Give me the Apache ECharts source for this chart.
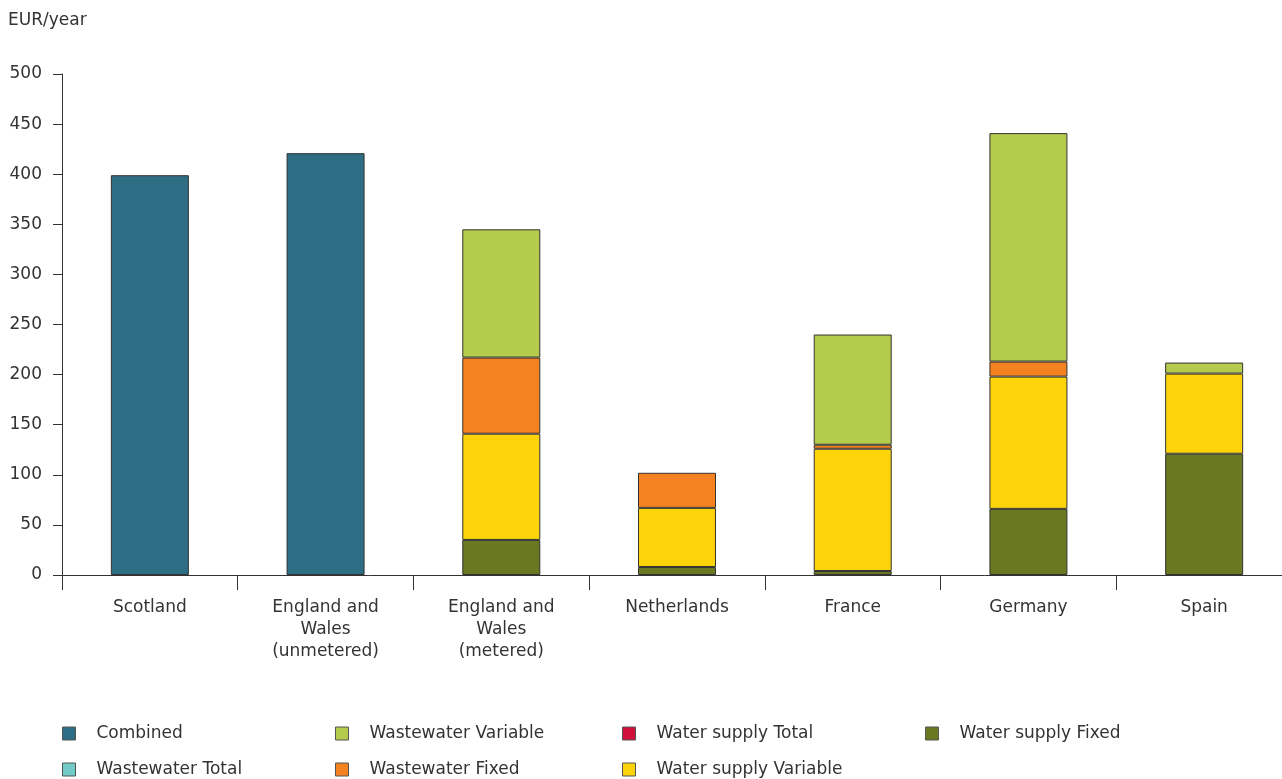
<!DOCTYPE html>
<html><head><meta charset="utf-8">
<script src="https://cdn.jsdelivr.net/npm/echarts@6/dist/echarts.min.js"></script>
<style>html,body{margin:0;padding:0;background:#fff;overflow:hidden}#c{width:1294px;height:779px}</style>
</head><body><div id="c"></div>
<script>
const categories = ['Scotland', 'England and\nWales\n(unmetered)', 'England and\nWales\n(metered)', 'Netherlands', 'France', 'Germany', 'Spain'];
const combined = [399, 421, '-', '-', '-', '-', '-'];
const wsFixed = ['-', '-', 35, 8, 4, 66, 121];
const wsVariable = ['-', '-', 106, 59, 122, 132, 80];
const wwFixed = ['-', '-', 76, 35, 4, 15, '-'];
const wwVariable = ['-', '-', 128, '-', 110, 228, 11];
const wsTotal = [];
const wwTotal = [];
const yTicks = [0, 50, 100, 150, 200, 250, 300, 350, 400, 450, 500];

const colors = {
  'Combined': '#2e6e84',
  'Wastewater Variable': '#b5cb4b',
  'Water supply Total': '#d2103c',
  'Water supply Fixed': '#6b7822',
  'Wastewater Total': '#72cbc7',
  'Wastewater Fixed': '#f58220',
  'Water supply Variable': '#fdd40a'
};
const font = 'DejaVu Sans, Verdana, sans-serif';
function mk(name, data) {
  return {
    name, type: 'bar', stack: 'a', data, barWidth: 78, barGap: '0%',
    itemStyle: { color: colors[name], borderColor: '#333', borderWidth: 1 }
  };
}
const legendPos = [
  ['Combined', 57, 720], ['Wastewater Variable', 330, 720], ['Water supply Total', 617, 720], ['Water supply Fixed', 920, 720],
  ['Wastewater Total', 57, 756], ['Wastewater Fixed', 330, 756], ['Water supply Variable', 617, 756]
];
const chart = echarts.init(document.getElementById('c'));
chart.setOption({
  animation: false,
  textStyle: { fontFamily: font },
  graphic: [{ type: 'text', left: 8, top: 12, style: { text: 'EUR/year', font: '17px ' + font, fill: '#333' } }],
  legend: legendPos.map(([n, x, y]) => ({
    data: [n], left: x, top: y, itemWidth: 13, itemHeight: 13, icon: 'rect',
    itemStyle: { borderColor: '#555', borderWidth: 1 },
    selectedMode: false,
    textStyle: { fontSize: 17, color: '#333', fontFamily: font, padding: [0, 0, 0, 16] }
  })),
  grid: { left: 62, top: 74, width: 1230, height: 501, containLabel: false },
  xAxis: {
    type: 'category', data: categories,
    axisLine: { lineStyle: { color: '#333', width: 1 } },
    axisTick: { show: true, length: 15, alignWithLabel: false, lineStyle: { color: '#333' } },
    axisLabel: { color: '#333', fontSize: 17, lineHeight: 22, margin: 22, interval: 0, fontFamily: font }
  },
  yAxis: {
    type: 'value', min: 0, max: 500, interval: 50,
    splitLine: { show: false },
    axisLine: { show: true, lineStyle: { color: '#333', width: 1 } },
    axisTick: { show: true, length: 9, lineStyle: { color: '#333' } },
    axisLabel: { color: '#333', fontSize: 17, margin: 20, fontFamily: font,
      formatter: v => yTicks.includes(v) ? String(v) : '' }
  },
  series: [
    mk('Water supply Fixed', wsFixed),
    mk('Water supply Variable', wsVariable),
    mk('Wastewater Fixed', wwFixed),
    mk('Wastewater Variable', wwVariable),
    mk('Combined', combined),
    mk('Water supply Total', wsTotal),
    mk('Wastewater Total', wwTotal)
  ]
});
</script></body></html>
